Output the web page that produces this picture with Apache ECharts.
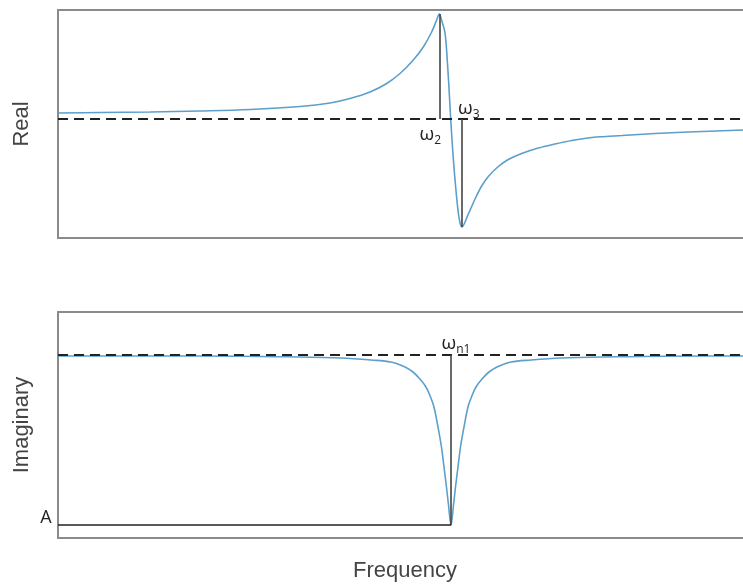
<!DOCTYPE html>
<html>
<head>
<meta charset="utf-8">
<script src="https://cdn.jsdelivr.net/npm/echarts@6/dist/echarts.min.js"></script>
<style>
  html, body { margin: 0; padding: 0; background: #fff; }
  #grafica { width: 743px; height: 584px; }
</style>
</head>
<body>
<div id="grafica"></div>
<script>
// parte real (arriba)
var realFreq = [0, 6.13, 13.43, 20.73, 28.03, 35.33, 39.71, 42.63, 45.55, 47.99, 49.93, 51.87, 53.33, 54.55, 55.28, 55.66, 55.99, 56.5, 56.89, 57.12, 57.33, 57.62, 58.0, 58.44, 58.7, 58.95, 59.9, 60.88, 61.85, 62.82, 64.28, 65.74, 67.69, 70.12, 72.55, 74.99, 77.37, 79.12, 82.34, 87.15, 91.97, 100];
var realValues = [0.06, 0.065, 0.07, 0.08, 0.095, 0.125, 0.16, 0.205, 0.27, 0.355, 0.455, 0.59, 0.72, 0.87, 0.99, 1.05, 0.99, 0.86, 0.52, 0.26, 0.0, -0.31, -0.64, -0.94, -1.04, -1.08, -0.95, -0.80, -0.67, -0.575, -0.475, -0.405, -0.345, -0.29, -0.25, -0.215, -0.19, -0.178, -0.165, -0.145, -0.13, -0.11];

// parte imaginaria (abajo)
var imagFreq = [0, 20.73, 35.33, 41.31, 45.69, 48.61, 50.66, 51.82, 52.70, 53.72, 54.38, 54.89, 55.47, 55.98, 56.35, 56.71, 57.01, 57.37, 57.74, 58.03, 58.39, 58.76, 59.27, 59.85, 60.36, 61.02, 62.04, 62.92, 64.09, 66.13, 69.05, 73.43, 79.41, 94.01, 100];
var imagValues = [-0.01, -0.01, -0.02, -0.03, -0.05, -0.07, -0.12, -0.17, -0.23, -0.32, -0.42, -0.52, -0.72, -0.92, -1.12, -1.32, -1.50, -1.70, -1.50, -1.32, -1.12, -0.92, -0.72, -0.52, -0.42, -0.32, -0.23, -0.17, -0.12, -0.07, -0.05, -0.03, -0.02, -0.01, -0.01];

var omega2 = [55.66, 1.05];
var omega3 = [58.95, -1.08];
var omegaN1 = [57.37, -1.70];

var colorCurva = "#5b9fca";
var colorMarco = "#8a8a8a";

function pares(xs, ys) {
  return xs.map(function (x, i) { return [x, ys[i]]; });
}

function ejeX(grid, pos, extra) {
  var eje = {
    type: "value", gridIndex: grid, position: pos, min: 0, max: 100,
    axisLine: { show: true, onZero: false, lineStyle: { color: colorMarco, width: 2 } },
    axisTick: { show: false }, axisLabel: { show: false }, splitLine: { show: false }
  };
  return Object.assign(eje, extra || {});
}

function ejeY(grid, min, max, nombre) {
  return {
    type: "value", gridIndex: grid, min: min, max: max,
    name: nombre, nameLocation: "middle", nameGap: 25, nameRotate: 90,
    nameTextStyle: { fontSize: 22, color: "#444", fontFamily: "Liberation Sans" },
    axisLine: { show: true, lineStyle: { color: colorMarco, width: 2 } },
    axisTick: { show: false }, axisLabel: { show: false }, splitLine: { show: false }
  };
}

var rayas = { type: [10, 6], color: "#222", width: 1.8 };
var solida = { type: "solid", color: "#444", width: 1.6 };
var richOmega = {
  w: { fontSize: 19, lineHeight: 20, verticalAlign: "top", color: "#222", fontFamily: "Open Sans" },
  s: { fontSize: 12, lineHeight: 12, verticalAlign: "top", padding: [10, 0, 0, 0], color: "#222", fontFamily: "Open Sans" }
};

function etiqueta(coord, texto, offset, rich) {
  return {
    coord: coord,
    label: { show: true, position: "inside", formatter: texto, offset: offset, rich: rich, fontSize: 18, color: "#222", fontFamily: "Open Sans" }
  };
}

var chart = echarts.init(document.getElementById("grafica"));
chart.setOption({
  animation: false,
  grid: [
    { left: 58, right: 0, top: 10, height: 228 },
    { left: 58, right: 0, top: 312, height: 226 }
  ],
  xAxis: [
    ejeX(0, "bottom"),
    ejeX(0, "top"),
    ejeX(1, "bottom", {
      name: "Frequency", nameLocation: "middle", nameGap: 22,
      nameTextStyle: { fontSize: 22, color: "#444", fontFamily: "Liberation Sans", padding: [0, 0, 0, 9] }
    }),
    ejeX(1, "top")
  ],
  yAxis: [
    ejeY(0, -1.19, 1.09, "Real"),
    ejeY(1, -1.83, 0.43, "Imaginary")
  ],
  series: [
    {
      type: "line", xAxisIndex: 0, yAxisIndex: 0,
      data: pares(realFreq, realValues),
      showSymbol: false, smooth: 0.35,
      lineStyle: { color: colorCurva, width: 1.6 },
      markLine: {
        silent: true, symbol: ["none", "none"], label: { show: false },
        data: [
          { yAxis: 0, lineStyle: rayas },
          [{ coord: [omega2[0], 0], lineStyle: solida }, { coord: omega2 }],
          [{ coord: [omega3[0], 0], lineStyle: solida }, { coord: omega3 }]
        ]
      },
      markPoint: {
        silent: true, symbol: "rect", symbolSize: 1, itemStyle: { color: "rgba(0,0,0,0)" },
        data: [
          etiqueta([omega2[0], 0], "{w|ω}{s|2}", [-9, 16], richOmega),
          etiqueta([omega3[0], 0], "{w|ω}{s|3}", [7, -10], richOmega)
        ]
      }
    },
    {
      type: "line", xAxisIndex: 2, yAxisIndex: 1,
      data: pares(imagFreq, imagValues),
      showSymbol: false, smooth: 0.35,
      lineStyle: { color: colorCurva, width: 1.6 },
      markLine: {
        silent: true, symbol: ["none", "none"], label: { show: false },
        data: [
          { yAxis: 0, lineStyle: rayas },
          [{ coord: [omegaN1[0], 0], lineStyle: solida }, { coord: omegaN1 }],
          [{ coord: [0, omegaN1[1]], lineStyle: { type: "solid", color: "#222", width: 1.6 } }, { coord: omegaN1 }]
        ]
      },
      markPoint: {
        silent: true, symbol: "rect", symbolSize: 1, itemStyle: { color: "rgba(0,0,0,0)" },
        data: [
          etiqueta([omegaN1[0], 0], "{w|ω}{s|n1}", [5, -11], richOmega),
          etiqueta([0, omegaN1[1]], "A", [-12, -7])
        ]
      }
    }
  ]
});
</script>
</body>
</html>
